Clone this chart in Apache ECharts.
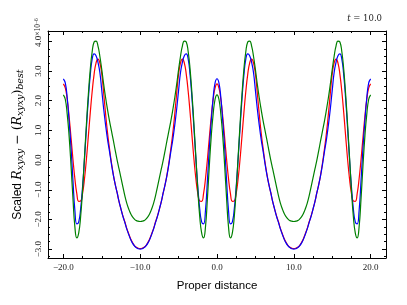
<!DOCTYPE html>
<html><head><meta charset="utf-8">
<script src="https://cdn.jsdelivr.net/npm/echarts@6/dist/echarts.min.js"></script>
<style>html,body{margin:0;padding:0;background:#fff}#c{width:407px;height:305px}</style>
</head><body><div id="c"></div>
<script>
const distance = [-20,-19.75,-19.5,-19.25,-19,-18.75,-18.5,-18.25,-18,-17.75,-17.5,-17.25,-17,-16.75,-16.5,-16.25,-16,-15.75,-15.5,-15.25,-15,-14.75,-14.5,-14.25,-14,-13.75,-13.5,-13.25,-13,-12.75,-12.5,-12.25,-12,-11.75,-11.5,-11.25,-11,-10.75,-10.5,-10.25,
-10,-9.75,-9.5,-9.25,-9,-8.75,-8.5,-8.25,-8,-7.75,-7.5,-7.25,-7,-6.75,-6.5,-6.25,-6,-5.75,-5.5,-5.25,-5,-4.75,-4.5,-4.25,-4,-3.75,-3.5,-3.25,-3,-2.75,-2.5,-2.25,-2,-1.75,-1.5,-1.25,-1,-0.75,-0.5,-0.25,
0,0.25,0.5,0.75,1,1.25,1.5,1.75,2,2.25,2.5,2.75,3,3.25,3.5,3.75,4,4.25,4.5,4.75,5,5.25,5.5,5.75,6,6.25,6.5,6.75,7,7.25,7.5,7.75,8,8.25,8.5,8.75,9,9.25,9.5,9.75,
10,10.25,10.5,10.75,11,11.25,11.5,11.75,12,12.25,12.5,12.75,13,13.25,13.5,13.75,14,14.25,14.5,14.75,15,15.25,15.5,15.75,16,16.25,16.5,16.75,17,17.25,17.5,17.75,18,18.25,18.5,18.75,19,19.25,19.5,19.75,20];

const redValues = [2.57,2.43,2.05,1.46,0.75,0.02,-0.63,-1.13,-1.39,-1.38,-1.12,-0.63,0.03,0.8,1.59,2.31,2.89,3.27,3.4,3.28,2.9,2.25,1.55,0.92,0.4,-0.07,-0.48,-0.82,-1.1,-1.4,-1.65,-1.88,-2.08,-2.3,-2.48,-2.65,-2.78,-2.88,-2.94,-2.97,
-2.98,-2.97,-2.94,-2.88,-2.78,-2.65,-2.48,-2.3,-2.08,-1.88,-1.65,-1.4,-1.1,-0.82,-0.48,-0.07,0.4,0.92,1.55,2.25,2.9,3.28,3.4,3.27,2.89,2.31,1.59,0.8,0.03,-0.63,-1.12,-1.38,-1.39,-1.13,-0.63,0.02,0.75,1.46,2.05,2.43,
2.57,2.43,2.05,1.46,0.75,0.02,-0.63,-1.13,-1.39,-1.38,-1.12,-0.63,0.03,0.8,1.59,2.31,2.89,3.27,3.4,3.28,2.9,2.25,1.55,0.92,0.4,-0.07,-0.48,-0.82,-1.1,-1.4,-1.65,-1.88,-2.08,-2.3,-2.48,-2.65,-2.78,-2.88,-2.94,-2.97,
-2.98,-2.97,-2.94,-2.88,-2.78,-2.65,-2.48,-2.3,-2.08,-1.88,-1.65,-1.4,-1.1,-0.82,-0.48,-0.07,0.4,0.92,1.55,2.25,2.9,3.28,3.4,3.27,2.89,2.31,1.59,0.8,0.03,-0.63,-1.12,-1.38,-1.39,-1.13,-0.63,0.02,0.75,1.46,2.05,2.43,2.57];

const blueValues = [2.74,2.6,2.1,1.3,0.4,-0.7,-1.7,-2.15,-2.08,-1.64,-0.9,0.04,1.07,2.05,2.86,3.4,3.58,3.52,3.3,2.95,2.35,1.72,1.18,0.7,0.3,-0.12,-0.5,-0.82,-1.1,-1.4,-1.65,-1.9,-2.1,-2.32,-2.5,-2.67,-2.8,-2.89,-2.95,-2.99,
-3.0,-2.99,-2.95,-2.89,-2.8,-2.67,-2.5,-2.32,-2.1,-1.9,-1.65,-1.4,-1.1,-0.82,-0.5,-0.12,0.3,0.7,1.18,1.72,2.35,2.95,3.3,3.52,3.58,3.4,2.86,2.05,1.07,0.04,-0.9,-1.64,-2.08,-2.15,-1.7,-0.7,0.4,1.3,2.1,2.6,
2.74,2.6,2.1,1.3,0.4,-0.7,-1.7,-2.15,-2.08,-1.64,-0.9,0.04,1.07,2.05,2.86,3.4,3.58,3.52,3.3,2.95,2.35,1.72,1.18,0.7,0.3,-0.12,-0.5,-0.82,-1.1,-1.4,-1.65,-1.9,-2.1,-2.32,-2.5,-2.67,-2.8,-2.89,-2.95,-2.99,
-3.0,-2.99,-2.95,-2.89,-2.8,-2.67,-2.5,-2.32,-2.1,-1.9,-1.65,-1.4,-1.1,-0.82,-0.5,-0.12,0.3,0.7,1.18,1.72,2.35,2.95,3.3,3.52,3.58,3.4,2.86,2.05,1.07,0.04,-0.9,-1.64,-2.08,-2.15,-1.7,-0.7,0.4,1.3,2.1,2.6,2.74];

const greenValues = [2.2,2.05,1.55,0.8,-0.2,-1.3,-2.25,-2.62,-2.45,-1.9,-1.0,0.1,1.2,2.2,3.05,3.65,3.98,4.01,3.85,3.5,3.05,2.55,2.1,1.7,1.33,1.0,0.67,0.33,0.0,-0.3,-0.6,-0.9,-1.2,-1.45,-1.64,-1.8,-1.91,-1.99,-2.04,-2.06,
-2.07,-2.06,-2.04,-1.99,-1.91,-1.8,-1.64,-1.45,-1.2,-0.9,-0.6,-0.3,0.0,0.33,0.67,1.0,1.33,1.7,2.1,2.55,3.05,3.5,3.85,4.01,3.98,3.65,3.05,2.2,1.2,0.1,-1.0,-1.9,-2.45,-2.62,-2.25,-1.3,-0.2,0.8,1.55,2.05,
2.2,2.05,1.55,0.8,-0.2,-1.3,-2.25,-2.62,-2.45,-1.9,-1.0,0.1,1.2,2.2,3.05,3.65,3.98,4.01,3.85,3.5,3.05,2.55,2.1,1.7,1.33,1.0,0.67,0.33,0.0,-0.3,-0.6,-0.9,-1.2,-1.45,-1.64,-1.8,-1.91,-1.99,-2.04,-2.06,
-2.07,-2.06,-2.04,-1.99,-1.91,-1.8,-1.64,-1.45,-1.2,-0.9,-0.6,-0.3,0.0,0.33,0.67,1.0,1.33,1.7,2.1,2.55,3.05,3.5,3.85,4.01,3.98,3.65,3.05,2.2,1.2,0.1,-1.0,-1.9,-2.45,-2.62,-2.25,-1.3,-0.2,0.8,1.55,2.05,2.2];

const xTickLabels = [-20, -10, 0, 10, 20];
const xMinorTicks = [-20,-17.5,-15,-12.5,-10,-7.5,-5,-2.5,0,2.5,5,7.5,10,12.5,15,17.5,20];
const yTickLabels = [-3, -2, -1, 0, 1, 2, 3, 4];
const yMinorTicks = [-3.25,-3,-2.75,-2.5,-2.25,-2,-1.75,-1.5,-1.25,-1,-0.75,-0.5,-0.25,0,0.25,0.5,0.75,1,1.25,1.5,1.75,2,2.25,2.5,2.75,3,3.25,3.5,3.75,4,4.25];

const X_MIN = -22, X_MAX = 22, Y_MIN = -3.3, Y_MAX = 4.35;
const fmt = v => (v < 0 ? '\u2212' : '') + Math.abs(v).toFixed(1);
const labelFont = {fontFamily: 'Liberation Serif', fontSize: 9, color: '#222'};

function xAx(pos, ticks, len, line, labels) {
  return {
    type: 'value', position: pos, min: X_MIN, max: X_MAX,
    axisLine: {show: line, onZero: false, lineStyle: {color: '#000', width: 1}},
    axisTick: {show: true, inside: true, length: len, customValues: ticks, lineStyle: {color: '#000', width: 1}},
    axisLabel: labels ? Object.assign({show: true, customValues: xTickLabels, formatter: fmt, margin: 5}, labelFont) : {show: false},
    splitLine: {show: false}
  };
}
function yAx(pos, ticks, len, line, labels) {
  return {
    type: 'value', position: pos, min: Y_MIN, max: Y_MAX,
    axisLine: {show: line, onZero: false, lineStyle: {color: '#000', width: 1}},
    axisTick: {show: true, inside: true, length: len, customValues: ticks, lineStyle: {color: '#000', width: 1}},
    axisLabel: labels ? Object.assign({show: true, customValues: yTickLabels, formatter: fmt, margin: 5, rotate: 90}, labelFont) : {show: false},
    splitLine: {show: false}
  };
}

const xMain = xAx('bottom', xTickLabels, 4, true, true);
xMain.name = 'Proper distance';
xMain.nameLocation = 'middle';
xMain.nameGap = 22;
xMain.nameTextStyle = {fontFamily: 'Liberation Sans', fontSize: 11.5, color: '#000'};

const yMain = yAx('left', yTickLabels, 4, true, true);
yMain.name = 'Scaled {r|R}{s|xyxy}{m| \u2212 (}{r|R}{s|xyxy}{m|)}{s|best}';
yMain.nameLocation = 'middle';
yMain.nameGap = 22;
yMain.nameRotate = 90;
yMain.nameTextStyle = {
  fontFamily: 'Liberation Sans', fontSize: 12, color: '#000', lineHeight: 17,
  rich: {
    r: {fontFamily: 'DejaVu Serif', fontStyle: 'italic', fontSize: 12.5, color: '#000', lineHeight: 17},
    s: {fontFamily: 'DejaVu Serif', fontStyle: 'italic', fontSize: 9.5, color: '#000', verticalAlign: 'bottom', lineHeight: 17},
    m: {fontFamily: 'DejaVu Serif', fontSize: 12.5, color: '#000', lineHeight: 17}
  }
};

const mk = (name, vals, color) => ({
  name, type: 'line', xAxisIndex: 0, yAxisIndex: 0, smooth: 0.5, symbol: 'none',
  lineStyle: {color, width: 1.2}, itemStyle: {color},
  data: distance.map((d, i) => [d, vals[i]])
});

const chart = echarts.init(document.getElementById('c'), null, {renderer: 'canvas'});
chart.setOption({
  animation: false,
  backgroundColor: '#fff',
  grid: {left: 48, right: 21, top: 31, bottom: 47},
  title: {
    text: '{i|t} = 10.0', right: 20, top: 9,
    textStyle: {fontFamily: 'DejaVu Serif', fontSize: 8.5, fontWeight: 'normal', color: '#222',
      rich: {i: {fontFamily: 'DejaVu Serif', fontStyle: 'italic', fontSize: 8.5, color: '#222'}}}
  },
  xAxis: [xMain, xAx('bottom', xMinorTicks, 2, false, false), xAx('top', xTickLabels, 4, true, false), xAx('top', xMinorTicks, 2, false, false)],
  yAxis: [yMain, yAx('left', yMinorTicks, 2, false, false), yAx('right', yTickLabels, 4, true, false), yAx('right', yMinorTicks, 2, false, false)],
  graphic: [{
    type: 'text', x: 38, y: 27, rotation: Math.PI / 2,
    style: {
      text: '\u00d710{sup|\u22126}', fontFamily: 'Liberation Serif', fontSize: 7.5, fill: '#222', align: 'center', verticalAlign: 'middle',
      rich: {sup: {fontFamily: 'Liberation Serif', fontSize: 5.5, fill: '#222', verticalAlign: 'top', lineHeight: 9}}
    }
  }],
  series: [
    mk('red', redValues, '#ff0000'),
    mk('blue', blueValues, '#0000ff'),
    mk('green', greenValues, '#008000')
  ]
});
</script></body></html>
